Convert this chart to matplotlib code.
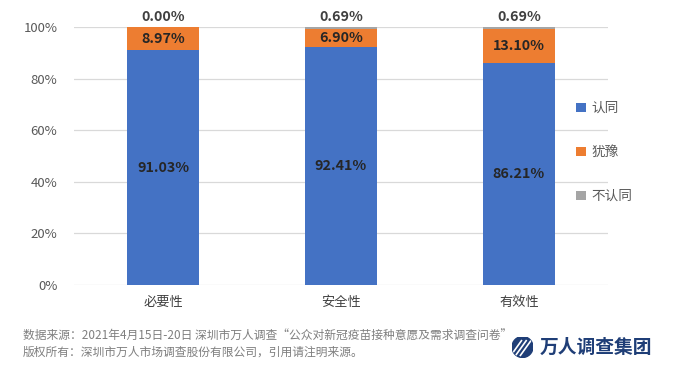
import matplotlib.pyplot as plt
from matplotlib.patches import Circle

plt.rcParams['font.family'] = ['Noto Sans CJK SC', 'DejaVu Sans']

categories = ['必要性', '安全性', '有效性']
agree = [91.03, 92.41, 86.21]
hesitate = [8.97, 6.90, 13.10]
disagree = [0.00, 0.69, 0.69]
series_names = ['认同', '犹豫', '不认同']
colors = ['#4472C4', '#ED7D31', '#A5A5A5']

fig = plt.figure(figsize=(6.79, 3.68), dpi=100)
ax = fig.add_axes([0.109, 0.2255, 0.7864, 0.7011])

x = list(range(len(categories)))
width = 0.4
ax.bar(x, agree, width=width, color=colors[0], label=series_names[0], zorder=3)
ax.bar(x, hesitate, width=width, bottom=agree, color=colors[1], label=series_names[1], zorder=3)
bottom2 = [a + h for a, h in zip(agree, hesitate)]
ax.bar(x, disagree, width=width, bottom=bottom2, color=colors[2], label=series_names[2], zorder=3)

# data labels
for xp, a, h, d, b2 in zip(x, agree, hesitate, disagree, bottom2):
    ax.text(xp, a / 2, '%.2f%%' % a, ha='center', va='center', fontsize=10.3,
            fontweight='bold', color='#262626', zorder=4)
    ax.text(xp, a + h / 2, '%.2f%%' % h, ha='center', va='center', fontsize=10.3,
            fontweight='bold', color='#262626', zorder=4)
    ax.text(xp, b2 + d + 1.2, '%.2f%%' % d, ha='center', va='bottom', fontsize=10.3,
            fontweight='bold', color='#404040', zorder=4)

ax.set_xlim(-0.5, 2.5)
ax.set_ylim(0, 100)
ax.set_yticks([0, 20, 40, 60, 80, 100])
ax.set_yticklabels(['0%', '20%', '40%', '60%', '80%', '100%'])
ax.set_xticks(x)
ax.set_xticklabels(categories)
ax.tick_params(axis='y', length=0, pad=12, labelsize=9.5, labelcolor='#595959')
ax.tick_params(axis='x', length=0, pad=8, labelsize=9.5, labelcolor='#404040')
ax.grid(axis='y', color='#D9D9D9', linewidth=0.9, zorder=0)
for s in ax.spines.values():
    s.set_visible(False)

leg = ax.legend(loc='center left', bbox_to_anchor=(0.93, 0.515), frameon=False,
                handlelength=0.7, handleheight=0.7, handletextpad=0.4,
                labelspacing=2.2, fontsize=9.8, borderaxespad=0)
for t in leg.get_texts():
    t.set_color('#595959')

# footer
fig.text(0.034, 0.087, '数据来源：2021年4月15日-20日 深圳市万人调查“公众对新冠疫苗接种意愿及需求调查问卷”',
         fontsize=8.5, color='#7F7F7F', va='center')
fig.text(0.034, 0.043, '版权所有：深圳市万人市场调查股份有限公司，引用请注明来源。',
         fontsize=8.5, color='#7F7F7F', va='center')

# logo
logo_ax = fig.add_axes([512 / 679, 10.5 / 368, 21 / 679, 21 / 368])
logo_ax.set_xlim(-1, 1)
logo_ax.set_ylim(-1, 1)
logo_ax.set_aspect('equal')
logo_ax.axis('off')
circ = Circle((0, 0), 1, color='#1F3E77')
logo_ax.add_patch(circ)
for k in [-0.6, -0.15, 0.3]:
    ln, = logo_ax.plot([k - 0.5, k + 0.5], [-0.8, 0.6], color='white', linewidth=1.2)
    ln.set_clip_path(circ)
fig.text(540 / 679, (368 - 347) / 368, '万人调查集团', fontsize=13.5, fontweight='bold',
         color='#1F3E77', va='center')

fig.savefig('out.png', dpi=100)
